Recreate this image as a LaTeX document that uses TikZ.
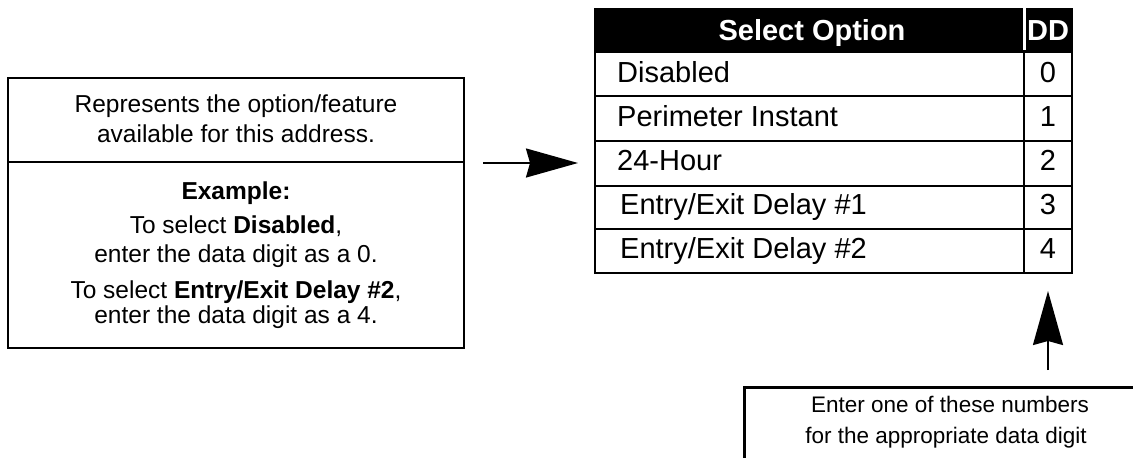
\documentclass[tikz,border=0pt]{standalone}
\usepackage{fontspec}
\setmainfont{Liberation Sans}
\usetikzlibrary{arrows.meta}
\begin{document}
\begin{tikzpicture}[x=1pt,y=-1pt,
  box/.style={draw, line width=2.8pt, inner sep=0pt},
  cell/.style={draw, line width=2.8pt, inner sep=0pt},
  hdr/.style={fill=black, inner sep=0pt, minimum height=44pt},
  lt/.style={inner sep=0pt, font=\fontsize{24.5}{29}\selectfont},
  tt/.style={inner sep=0pt, font=\fontsize{29}{34}\selectfont},
  ht/.style={inner sep=0pt, text=white, font=\fontsize{29}{34}\selectfont\bfseries},
  nt/.style={inner sep=0pt, font=\fontsize{22.5}{27}\selectfont},
  conn/.style={line width=2pt},
  ]
\useasboundingbox (0,0) rectangle (1133,458);
\clip (0,0) rectangle (1133,458);

% left description box
\node[box, minimum width=456pt, minimum height=84pt] (desc) at (236,120) {};
\node[box, minimum width=456pt, minimum height=186pt] (example) at (236,255) {};
\node[lt, anchor=base] (d1) at (236,112) {Represents the option/feature};
\node[lt, anchor=base] (d2) at (236,142) {available for this address.};
\node[lt, anchor=base] (e0) at (236,199) {\bfseries Example:};
\node[lt, anchor=base] (e1) at (236,233) {To select \textbf{Disabled},};
\node[lt, anchor=base] (e2) at (236,262) {enter the data digit as a 0.};
\node[lt, anchor=base] (e3) at (236,298) {To select \textbf{Entry/Exit Delay \#2},};
\node[lt, anchor=base] (e4) at (236,323) {enter the data digit as a 4.};

% table header
\node[hdr, minimum width=431pt] (hopt) at (809.5,30) {};
\node[hdr, minimum width=49pt] (hdd) at (1048,30) {};
\draw[white, line width=3pt] (1024,8) -- (1024,50);
\node[ht, anchor=base] (htxt) at (812,40) {Select Option};
\node[ht, anchor=base] (ddtxt) at (1048,40) {DD};

% table rows
\node[cell, minimum width=429pt, minimum height=44pt] (o1) at (809.5,74) {};
\node[cell, minimum width=48pt, minimum height=44pt] (c1) at (1048,74) {};
\node[cell, minimum width=429pt, minimum height=45pt] (o2) at (809.5,118.5) {};
\node[cell, minimum width=48pt, minimum height=45pt] (c2) at (1048,118.5) {};
\node[cell, minimum width=429pt, minimum height=45pt] (o3) at (809.5,163.5) {};
\node[cell, minimum width=48pt, minimum height=45pt] (c3) at (1048,163.5) {};
\node[cell, minimum width=429pt, minimum height=43pt] (o4) at (809.5,207.5) {};
\node[cell, minimum width=48pt, minimum height=43pt] (c4) at (1048,207.5) {};
\node[cell, minimum width=429pt, minimum height=44pt] (o5) at (809.5,251) {};
\node[cell, minimum width=48pt, minimum height=44pt] (c5) at (1048,251) {};

\node[tt, anchor=base west] (t1) at (617,82) {Disabled};
\node[tt, anchor=base west] (t2) at (617,126) {Perimeter Instant};
\node[tt, anchor=base west] (t3) at (617,170) {24-Hour};
\node[tt, anchor=base west] (t4) at (620,214) {Entry/Exit Delay \#1};
\node[tt, anchor=base west] (t5) at (620,258) {Entry/Exit Delay \#2};
\node[tt, anchor=base] (n1) at (1048,82) {0};
\node[tt, anchor=base] (n2) at (1048,126) {1};
\node[tt, anchor=base] (n3) at (1048,170) {2};
\node[tt, anchor=base] (n4) at (1048,214) {3};
\node[tt, anchor=base] (n5) at (1048,258) {4};

% arrows
\coordinate (h1) at (483,163);
\coordinate (h2) at (578,163);
\draw[conn, -{Stealth[length=52pt, width=29pt, inset=4pt]}] (h1) -- (h2);
\coordinate (v1) at (1048,370);
\coordinate (v2) at (1048,291);
\draw[conn, -{Stealth[length=54pt, width=30pt, inset=4pt]}] (v1) -- (v2);

% bottom note box (cut off by the page edge)
\node[box, minimum width=412pt, minimum height=100pt, anchor=north west] (note) at (743,386) {};
\node[nt, anchor=base] (m1) at (950,412) {Enter one of these numbers};
\node[nt, anchor=base] (m2) at (946,443) {for the appropriate data digit};
\end{tikzpicture}
\end{document}
